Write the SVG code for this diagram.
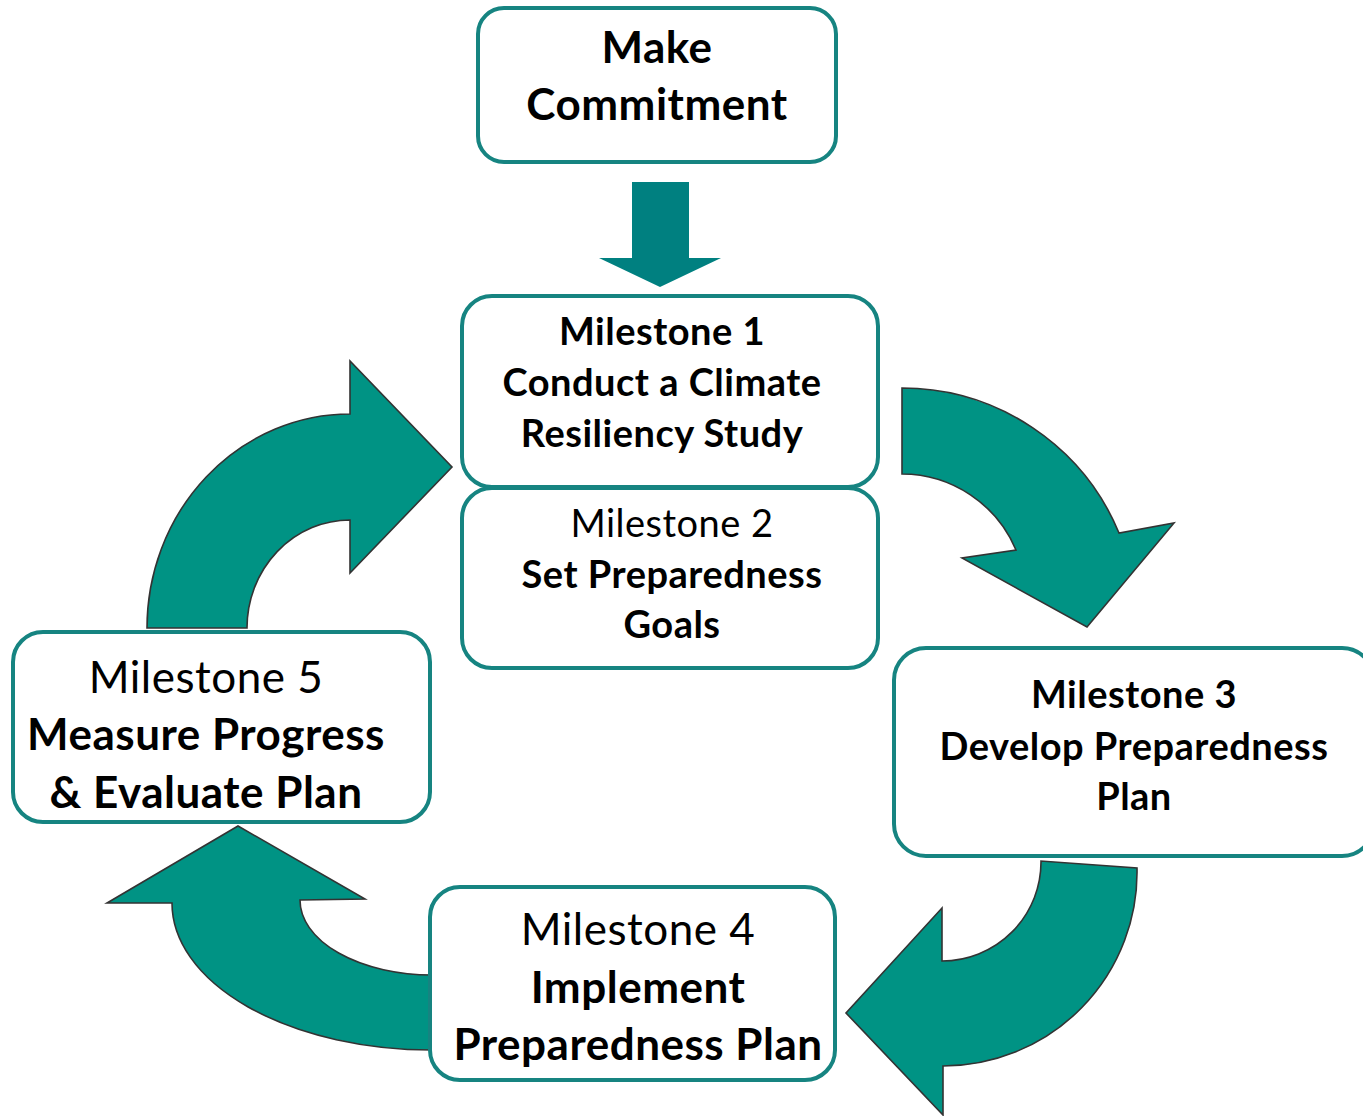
<svg xmlns="http://www.w3.org/2000/svg" width="1363" height="1116" viewBox="0 0 1363 1116">
<style>
.box{fill:#fff;stroke:#168481;stroke-width:4}
.arr{fill:#009384;stroke:#333;stroke-width:1.6;stroke-linejoin:miter}
text{font-family:Lato,"Liberation Sans",sans-serif;fill:#000;text-anchor:middle;letter-spacing:0.5px}
.b{font-weight:bold}
.s34{font-size:38px}
.s40{font-size:44px}
</style>
<rect width="1363" height="1116" fill="#fff"/>
<g id="connectors">
<path id="down" d="M632,182 H689 V258 H721 L660,287 L599,258 H632 Z" fill="#008080"/>
<path id="arrowA" class="arr" d="M902,388 A235,235 0 0 1 1119,533 L1174,523 L1087,627 L962,558 L1016,550 A124,124 0 0 0 902,474 Z"/>
<path id="arrowB" class="arr" d="M1137,868 A194,194 0 0 1 943,1066 L943,1115 L846,1013 L942,908 L942,961 A99,99 0 0 0 1041,861 Z"/>
<path id="arrowC" class="arr" d="M432,1050 A260,147 0 0 1 172,903 L107,903 L238,826 L365,899 L300,900 A132,75 0 0 0 432,975 Z"/>
<path id="arrowD" class="arr" d="M147,628 A203,214 0 0 1 350,414 L350,361 L452,467 L350,573 L350,520 A103,108 0 0 0 247,628 Z"/>
</g>
<g id="make">
<rect class="box" x="478" y="8" width="358" height="154" rx="26"/>
<text class="b s40" x="657" y="63">Make</text>
<text class="b s40" x="657" y="120">Commitment</text>
</g>
<g id="m1">
<rect class="box" x="462" y="296" width="416" height="191" rx="30"/>
<text class="b s34" x="662" y="345">Milestone 1</text>
<text class="b s34" x="662" y="396">Conduct a Climate</text>
<text class="b s34" x="662" y="447">Resiliency Study</text>
</g>
<g id="m2">
<rect class="box" x="462" y="488" width="416" height="180" rx="30"/>
<text class="s34" x="672" y="537">Milestone 2</text>
<text class="b s34" x="672" y="588">Set Preparedness</text>
<text class="b s34" x="672" y="638">Goals</text>
</g>
<g id="m3">
<rect class="box" x="894" y="648" width="480" height="208" rx="32"/>
<text class="b s34" x="1134" y="708">Milestone 3</text>
<text class="b s34" x="1134" y="760">Develop Preparedness</text>
<text class="b s34" x="1134" y="810">Plan</text>
</g>
<g id="m4">
<rect class="box" x="430" y="887" width="405" height="193" rx="30"/>
<text class="s40" x="638" y="945">Milestone 4</text>
<text class="b s40" x="638" y="1003">Implement</text>
<text class="b s40" x="638" y="1060">Preparedness Plan</text>
</g>
<g id="m5">
<rect class="box" x="13" y="632" width="417" height="190" rx="30"/>
<text class="s40" x="206" y="693">Milestone 5</text>
<text class="b s40" x="206" y="750">Measure Progress</text>
<text class="b s40" x="206" y="808">&amp; Evaluate Plan</text>
</g>
</svg>
